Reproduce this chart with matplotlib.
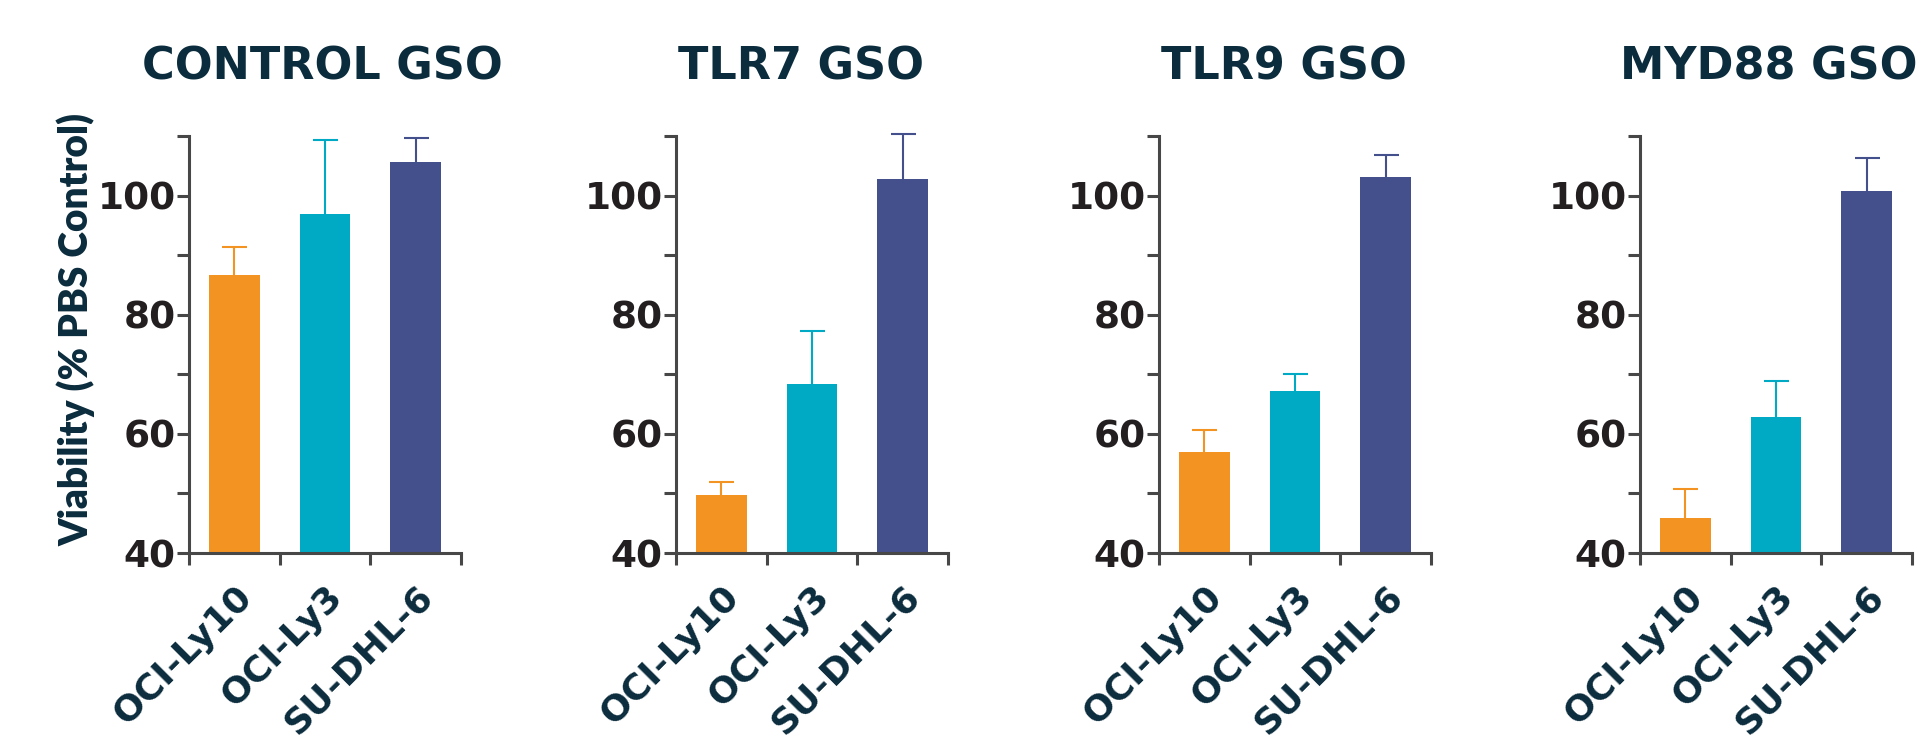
import numpy as np
import matplotlib
matplotlib.use("Agg")
from matplotlib import pyplot as plt
from matplotlib.ticker import FixedLocator, NullFormatter

# cell lines and panel titles
cell_lines = ["OCI-Ly10", "OCI-Ly3", "SU-DHL-6"]
panel_titles = ["CONTROL GSO", "TLR7 GSO", "TLR9 GSO", "MYD88 GSO"]

# viability (% PBS control), mean and upper error (SD)
control_mean = [86.6, 96.9, 105.6]
control_err = [4.8, 12.4, 4.0]
tlr7_mean = [49.8, 68.3, 102.8]
tlr7_err = [2.2, 8.9, 7.5]
tlr9_mean = [56.9, 67.2, 103.1]
tlr9_err = [3.7, 2.8, 3.7]
myd88_mean = [45.8, 62.8, 100.8]
myd88_err = [4.9, 6.0, 5.5]

means = [control_mean, tlr7_mean, tlr9_mean, myd88_mean]
errs = [control_err, tlr7_err, tlr9_err, myd88_err]

bar_colors = ["#F39322", "#00AAC4", "#44508C"]
navy = "#0B2C3D"
tick_col = "#231F20"
axis_col = "#474747"

plt.rcParams['font.family'] = ['DejaVu Sans']

fig = plt.figure(figsize=(19.18, 7.35), dpi=100)

# panel layout in pixels
lefts = [189, 676, 1159, 1640]
title_x = [0.49, 0.46, 0.46, 0.475]
W, H = 1918, 735
x = np.arange(len(cell_lines))

for i, left in enumerate(lefts):
    ax = fig.add_axes([left / W, 1 - 553 / H, 272 / W, 417 / H])
    ax.bar(x, means[i], width=0.56, color=bar_colors, zorder=2)
    for j in range(len(x)):
        eb = ax.errorbar(x[j], means[i][j], yerr=[[0], [errs[i][j]]], fmt='none',
                         ecolor=bar_colors[j], elinewidth=1.5, capsize=9,
                         capthick=1.5, zorder=3)
        for cap in eb.lines[1]:
            cap.set_clip_on(False)
            # only the upper cap is drawn
            if np.isclose(cap.get_ydata()[0], means[i][j]):
                cap.set_visible(False)
        for col in eb.lines[2]:
            col.set_clip_on(False)

    ax.set_xlim(-0.5, 2.5)
    ax.set_ylim(40, 110)
    for s in ['top', 'right']:
        ax.spines[s].set_visible(False)
    for s in ['left', 'bottom']:
        ax.spines[s].set_color(axis_col)
        ax.spines[s].set_linewidth(2.2)

    # y ticks: every 10, labels every 20
    ax.yaxis.set_major_locator(FixedLocator([40, 60, 80, 100]))
    ax.yaxis.set_minor_locator(FixedLocator([50, 70, 90, 110]))
    ax.yaxis.set_minor_formatter(NullFormatter())
    ax.tick_params(axis='y', which='both', length=8.6, width=2.2, color=axis_col,
                   direction='out', pad=1)
    ax.tick_params(axis='y', which='major', labelsize=27, labelcolor=tick_col)
    for lab in ax.get_yticklabels():
        lab.set_fontweight('bold')

    # x ticks at category boundaries, labels under bars
    ax.set_xticks(x)
    ax.set_xticklabels(cell_lines, rotation=45, ha='right', va='top',
                       rotation_mode='anchor', fontsize=26, fontweight='bold',
                       color=navy)
    ax.xaxis.set_minor_locator(FixedLocator([-0.5, 0.5, 1.5, 2.5]))
    ax.tick_params(axis='x', which='major', length=0, pad=19)
    ax.tick_params(axis='x', which='minor', length=8.6, width=2.2, color=axis_col,
                   direction='out')

    ax.set_title(panel_titles[i], fontsize=32, fontweight='bold', color=navy,
                 pad=41, x=title_x[i])

    if i == 0:
        ax.set_ylabel("Viability (% PBS Control)", fontsize=28, fontweight='heavy',
                      color=navy, family=['Lato', 'DejaVu Sans'])
        ax.yaxis.set_label_coords(-0.345, 0.537)

fig.savefig("out.png", dpi=100)
